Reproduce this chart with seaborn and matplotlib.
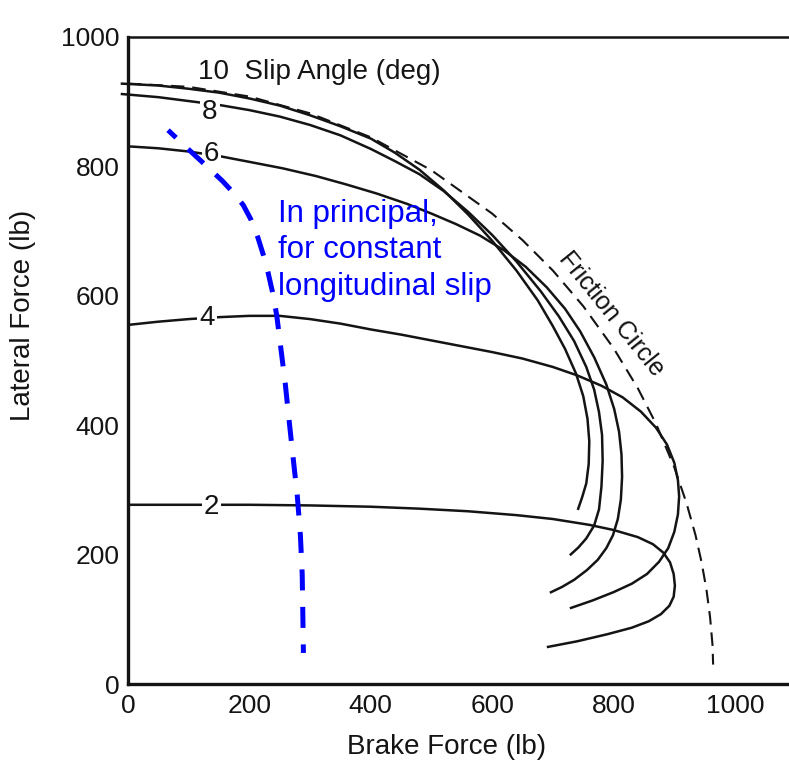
import matplotlib
matplotlib.use("Agg")
import matplotlib.pyplot as plt
import seaborn as sns
import pandas as pd

# ---------------- data ----------------
slip10_x = [-12, 50, 100, 150, 200, 250, 300, 350, 400, 440, 480, 520, 560, 600, 640, 675, 700, 720, 738, 750, 757, 760, 759, 755, 748, 741]
slip10_y = [928, 925, 920, 914, 905, 894, 879, 862, 843, 821, 795, 763, 726, 685, 639, 593, 553, 518, 480, 445, 410, 375, 340, 310, 288, 269]

slip8_x = [-12, 50, 100, 150, 200, 250, 300, 350, 400, 440, 480, 520, 560, 600, 640, 680, 710, 735, 755, 768, 776, 781, 782, 780, 776, 768, 755, 742, 728]
slip8_y = [912, 907, 901, 895, 887, 877, 864, 848, 827, 808, 788, 762, 730, 694, 653, 607, 568, 530, 490, 455, 420, 385, 345, 305, 270, 245, 225, 211, 199]

slip6_x = [0, 50, 100, 150, 200, 255, 310, 360, 410, 460, 500, 540, 580, 620, 655, 690, 720, 745, 768, 788, 801, 809, 813, 814, 812, 807, 799, 788, 774, 756, 735, 715, 695]
slip6_y = [831, 828, 823, 816, 807, 797, 785, 772, 758, 742, 727, 711, 693, 670, 645, 613, 580, 545, 505, 463, 425, 390, 355, 320, 285, 255, 230, 210, 192, 176, 161, 150, 141]

slip4_x = [0, 50, 100, 150, 200, 250, 300, 350, 400, 450, 500, 550, 600, 650, 700, 740, 780, 815, 845, 870, 888, 900, 906, 908, 906, 900, 890, 875, 855, 830, 800, 765, 728]
slip4_y = [555, 560, 564, 567, 569, 569, 564, 557, 548, 540, 531, 522, 513, 503, 490, 477, 461, 443, 421, 396, 370, 342, 315, 290, 262, 235, 210, 189, 170, 155, 142, 129, 117]

slip2_x = [0, 100, 200, 300, 400, 480, 560, 640, 700, 760, 800, 840, 865, 882, 893, 899, 901, 899, 892, 878, 858, 830, 790, 740, 690]
slip2_y = [277, 277, 277, 276, 274, 271, 267, 261, 255, 246, 238, 227, 216, 203, 188, 170, 152, 135, 121, 108, 97, 87, 77, 66, 57]

circle_x = [0, 100, 200, 300, 400, 500, 600, 650, 700, 750, 800, 840, 870, 900, 920, 935, 945, 953, 959, 963, 964]
circle_y = [928, 923, 908, 882, 845, 794, 727, 686, 639, 584, 519, 457, 402, 335, 280, 230, 188, 146, 103, 60, 30]

long_slip_x = [66, 100, 130, 155, 175, 190, 203, 214, 223, 231, 238, 245, 251, 259, 265, 272, 279, 284, 287, 288, 289]
long_slip_y = [856, 826, 800, 778, 758, 740, 717, 690, 663, 635, 606, 570, 525, 465, 411, 350, 290, 230, 170, 110, 48]

curve_labels = ["8", "6", "4", "2"]
curve_label_x = [135, 138, 130, 138]
curve_label_y = [884, 819, 566, 274]

x_ticks = [0, 200, 400, 600, 800, 1000]
y_ticks = [0, 200, 400, 600, 800, 1000]

# ---------------- figure ----------------
sns.set_style("white")
plt.rcParams["font.family"] = ["Liberation Sans", "DejaVu Sans"]

W, H = 789, 762
fig = plt.figure(figsize=(W / 100, H / 100), dpi=100)
ax = fig.add_axes([128 / W, 78 / H, 661 / W, 647 / H])

ink = "#141414"
curves = [(slip10_x, slip10_y), (slip8_x, slip8_y), (slip6_x, slip6_y),
          (slip4_x, slip4_y), (slip2_x, slip2_y)]
for cx, cy in curves:
    df = pd.DataFrame({"x": cx, "y": cy})
    sns.lineplot(data=df, x="x", y="y", sort=False, estimator=None, ax=ax,
                 color=ink, linewidth=1.8, clip_on=False,
                 solid_joinstyle="round", solid_capstyle="butt")

df = pd.DataFrame({"x": circle_x, "y": circle_y})
sns.lineplot(data=df, x="x", y="y", sort=False, estimator=None, ax=ax,
             color=ink, linewidth=1.5)
ax.lines[-1].set_dashes([6.5, 3.8])

df = pd.DataFrame({"x": long_slip_x, "y": long_slip_y})
sns.lineplot(data=df, x="x", y="y", sort=False, estimator=None, ax=ax,
             color="#0000ff", linewidth=3.6, zorder=5)
ax.lines[-1].set_linestyle((2.0, (4.2, 3.3)))
ax.lines[-1].set_dash_capstyle("butt")

for lab, lx, ly in zip(curve_labels, curve_label_x, curve_label_y):
    ax.text(lx, ly, lab, fontsize=20, color=ink, ha="center", va="center",
            zorder=4, bbox=dict(facecolor="white", edgecolor="none", pad=1.5))

ax.text(115, 946, "10  Slip Angle (deg)", fontsize=20, color=ink,
        ha="left", va="center")
ax.text(797, 572, "Friction Circle", fontsize=18, color=ink, rotation=-51,
        ha="center", va="center", rotation_mode="anchor")
ax.text(247, 750, "In principal,\nfor constant\nlongitudinal slip",
        fontsize=22.5, color="#0000ff", ha="left", va="top", linespacing=1.28)

ax.set_xlim(0, 1089)
ax.set_ylim(0, 1000)
ax.set_xticks(x_ticks)
ax.set_yticks(y_ticks)
ax.set_xticklabels([str(t) for t in x_ticks])
ax.set_yticklabels([str(t) for t in y_ticks])
ax.tick_params(axis="both", direction="in", length=13, width=1.6,
               labelsize=19, colors=ink)
ax.tick_params(axis="x", pad=7)
ax.tick_params(axis="y", pad=6)

for side in ["left", "bottom"]:
    ax.spines[side].set_linewidth(2.4)
    ax.spines[side].set_color(ink)
ax.spines["top"].set_linewidth(1.8)
ax.spines["top"].set_color(ink)
ax.spines["right"].set_visible(False)

ax.set_xlabel("Brake Force (lb)", fontsize=20, color=ink)
ax.set_ylabel("Lateral Force (lb)", fontsize=20, color=ink)
ax.xaxis.set_label_coords(0.4826, -0.078)
ax.yaxis.set_label_coords(-0.139, 0.569)

fig.savefig("out.png", dpi=100, facecolor="white")
